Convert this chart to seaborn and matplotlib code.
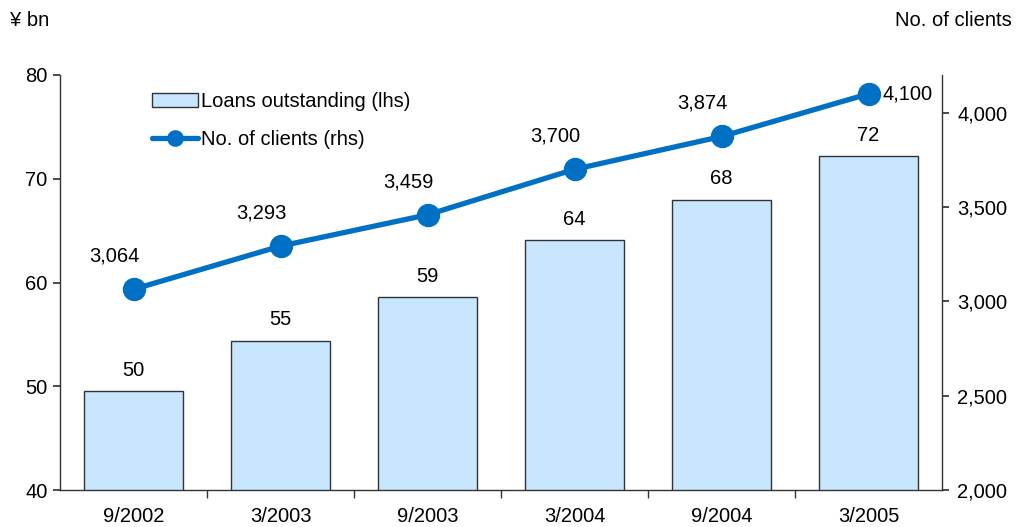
import matplotlib
matplotlib.use("Agg")
import matplotlib.pyplot as plt
import seaborn as sns
import pandas as pd
from matplotlib.patches import Patch
from matplotlib.lines import Line2D

periods = ["9/2002", "3/2003", "9/2003", "3/2004", "9/2004", "3/2005"]
loans = [49.5, 54.4, 58.6, 64.1, 68.0, 72.2]
loan_labels = ["50", "55", "59", "64", "68", "72"]
clients = [3064, 3293, 3459, 3700, 3874, 4100]
client_labels = ["3,064", "3,293", "3,459", "3,700", "3,874", "4,100"]
left_ticks = [40, 50, 60, 70, 80]
right_ticks = [2000, 2500, 3000, 3500, 4000]
right_tick_labels = ["2,000", "2,500", "3,000", "3,500", "4,000"]

sns.set_theme(style="white")
plt.rcParams["font.family"] = ["Liberation Sans", "DejaVu Sans"]
plt.rcParams["text.color"] = "black"
plt.rcParams["xtick.color"] = "black"
plt.rcParams["ytick.color"] = "black"

df = pd.DataFrame({"period": periods, "loans": loans, "clients": clients})

BAR = "#C8E6FF"
LINE = "#0070C4"
FS = 14.5

fig = plt.figure(figsize=(10.16, 5.27), dpi=100)
ax = fig.add_axes([60 / 1016, 1 - 490 / 527, 882 / 1016, 415 / 527])

sns.barplot(data=df, x="period", y="loans", ax=ax, color=BAR, width=0.667,
            edgecolor="#333333", linewidth=1.0, saturation=1)
ax.set_ylim(40, 80)
ax.set_xlim(-0.5, len(periods) - 0.5)
ax.set_yticks(left_ticks)
ax.set_xlabel("")
ax.set_ylabel("")
ax.tick_params(axis="y", labelsize=FS, length=5, direction="out", left=True, color="#333333", pad=4)
ax.set_xticks(range(len(periods)))
ax.set_xticklabels(periods, fontsize=FS)
ax.tick_params(axis="x", length=0, pad=12)
ax.set_xticks([i - 0.5 for i in range(1, len(periods))], minor=True)
ax.tick_params(axis="x", which="minor", length=6, direction="out", bottom=True, color="#333333")
for s in ["left", "bottom"]:
    ax.spines[s].set_color("#333333")
    ax.spines[s].set_linewidth(1.0)
ax.spines["top"].set_visible(False)
ax.spines["right"].set_visible(False)

for i, (v, t) in enumerate(zip(loans, loan_labels)):
    ax.annotate(t, (i, v), xytext=(0, 8), textcoords="offset points",
                ha="center", va="bottom", fontsize=FS, color="black")

ax2 = ax.twinx()
sns.pointplot(data=df, x="period", y="clients", ax=ax2, color=LINE,
              markersize=14, linewidth=3.8, markers="o")
ax2.set_ylim(2000, 4200)
ax2.set_xlim(-0.5, len(periods) - 0.5)
ax2.set_yticks(right_ticks)
ax2.set_yticklabels(right_tick_labels, fontsize=FS)
ax2.set_ylabel("")
ax2.set_xlabel("")
ax2.tick_params(axis="y", labelsize=FS, length=5, direction="out", right=True, color="#333333", pad=6)
for s in ["top", "left", "bottom"]:
    ax2.spines[s].set_visible(False)
ax2.spines["right"].set_color("#333333")
ax2.spines["right"].set_linewidth(1.0)

for i, (v, t) in enumerate(zip(clients, client_labels)):
    if i == len(clients) - 1:
        ax2.annotate(t, (i, v), xytext=(10, 0), textcoords="offset points",
                     ha="left", va="center", fontsize=FS)
    else:
        ax2.annotate(t, (i, v), xytext=(-14, 17), textcoords="offset points",
                     ha="center", va="bottom", fontsize=FS)

handles = [Patch(facecolor=BAR, edgecolor="#333333", linewidth=1.0),
           Line2D([], [], color=LINE, lw=3.8, marker="o", markersize=11)]
ax2.legend(handles, ["Loans outstanding (lhs)", "No. of clients (rhs)"],
           loc="upper left", bbox_to_anchor=(92 / 882, 0.96), frameon=False,
           fontsize=FS, handlelength=2.3, handleheight=0.7, handletextpad=0.15,
           labelspacing=0.95, borderaxespad=0, borderpad=0)

fig.text(10 / 1016, 1 - 20 / 527, "¥ bn", fontsize=FS, ha="left", va="center")
fig.text(1012 / 1016, 1 - 20 / 527, "No. of clients", fontsize=FS, ha="right", va="center")

fig.savefig("out.png", dpi=100)
